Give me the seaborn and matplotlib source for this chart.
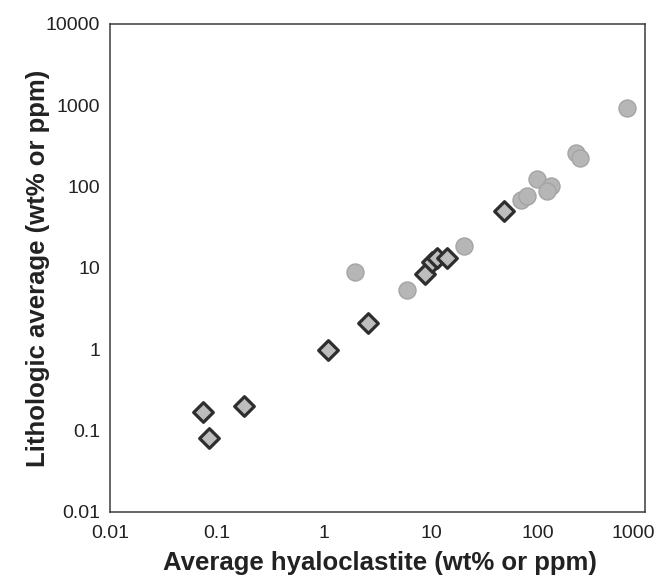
import matplotlib
matplotlib.use("Agg")
import matplotlib.pyplot as plt
import matplotlib.transforms as mtransforms
import seaborn as sns
import pandas as pd
from matplotlib.ticker import FixedLocator, FixedFormatter, NullLocator

# Diamonds (dark outline)
diamond_x = [0.0745, 0.084, 0.179, 1.10, 2.59, 8.8, 10.2, 11.4, 14.1, 48.6]
diamond_y = [0.171, 0.0806, 0.200, 0.99, 2.12, 8.45, 11.9, 13.3, 13.3, 49.9]
# Circles (light gray)
circle_x = [1.95, 5.97, 20.3, 69.3, 78.9, 97.9, 132, 121, 226, 247, 679]
circle_y = [8.9, 5.38, 18.6, 68, 76, 123, 101, 88, 256, 222, 936]

tick_vals = [0.01, 0.1, 1, 10, 100, 1000, 10000]
tick_labels = ["0.01", "0.1", "1", "10", "100", "1000", "10000"]

sns.set_theme(style="white")
plt.rcParams['font.family'] = ['Liberation Sans', 'DejaVu Sans']

fig = plt.figure(figsize=(6.56, 5.77), dpi=100)
ax = fig.add_axes([110/656, 65/577, 535/656, 488/577])

df_c = pd.DataFrame({"x": circle_x, "y": circle_y})
df_d = pd.DataFrame({"x": diamond_x, "y": diamond_y})

sns.scatterplot(data=df_c, x="x", y="y", ax=ax, marker="o", s=150,
                color="#b6b6b6", edgecolor="#a4a4a4", linewidth=1.0, zorder=3)
sns.scatterplot(data=df_d, x="x", y="y", ax=ax, marker="D", s=100,
                color="#bdbdbd", edgecolor="#2e2e2e", linewidth=2.3, zorder=4)

ax.set_xscale("log")
ax.set_yscale("log")
ax.set_xlim(0.01, 1000)
ax.set_ylim(0.01, 10000)

ax.xaxis.set_major_locator(FixedLocator(tick_vals[:6]))
ax.xaxis.set_major_formatter(FixedFormatter(tick_labels[:6]))
ax.yaxis.set_major_locator(FixedLocator(tick_vals))
ax.yaxis.set_major_formatter(FixedFormatter(tick_labels))
ax.xaxis.set_minor_locator(NullLocator())
ax.yaxis.set_minor_locator(NullLocator())

ax.tick_params(axis="both", which="major", direction="out", length=4, width=0.8,
               color="#555555", labelsize=14, labelcolor="#222222")
ax.tick_params(axis="x", pad=5)
ax.tick_params(axis="y", pad=3)

# keep the last x tick label inside the figure
fig.canvas.draw()
xt = ax.get_xticklabels()
xt[-1].set_transform(xt[-1].get_transform() +
                     mtransforms.ScaledTranslation(-12/100, 0, fig.dpi_scale_trans))

for sp in ax.spines.values():
    sp.set_color("#3a3a3a")
    sp.set_linewidth(1.1)

ax.set_xlabel("Average hyaloclastite (wt% or ppm)", fontsize=18.5, fontweight="bold",
              color="#222222")
ax.set_ylabel("Lithologic average (wt% or ppm)", fontsize=18.5, fontweight="bold",
              color="#222222")
ax.xaxis.label.set_va("center")
ax.yaxis.label.set_va("center")
ax.xaxis.set_label_coords(0.505, -0.104)
ax.yaxis.set_label_coords(-0.134, 0.5)

fig.savefig("out.png", dpi=100)
